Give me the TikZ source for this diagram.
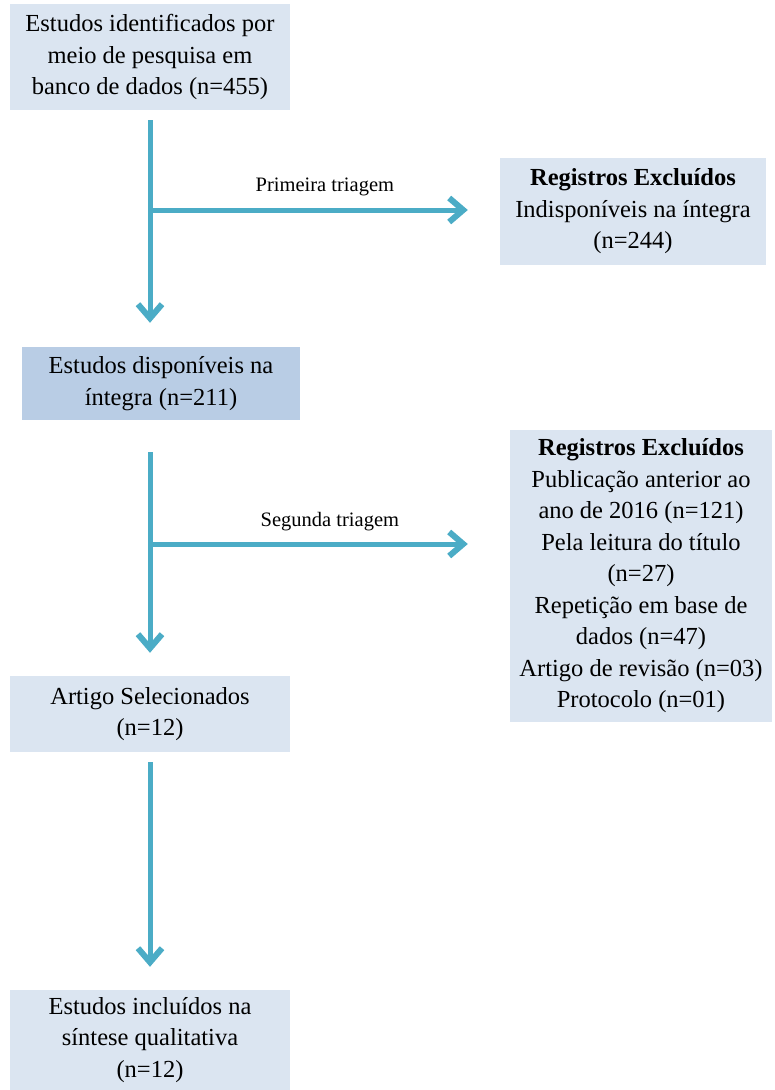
\documentclass[tikz,border=0pt]{standalone}
\usepackage{fontspec}
\setmainfont{Liberation Serif}
\usetikzlibrary{arrows.meta}
\definecolor{arrowc}{HTML}{4BACC6}
\definecolor{boxlight}{HTML}{DBE5F1}
\definecolor{boxmid}{HTML}{B9CDE5}
\tikzset{
  flowbox/.style={fill=boxlight, draw=none, inner sep=0pt, align=center,
    font=\fontsize{24.5}{31.5}\selectfont},
  flowarrow/.style={draw=arrowc, line width=5pt,
    -{Straight Barb[length=14pt,width=24pt,line width=6pt]}},
  steplabel/.style={font=\fontsize{20.5}{24}\selectfont, inner sep=0pt}
}
\begin{document}
\begin{tikzpicture}[x=1pt,y=-1pt]
\useasboundingbox (0,0) rectangle (775,1090);
\node[flowbox, minimum width=280pt, minimum height=106pt] (b1) at (150,57)
  {Estudos identificados por\\meio de pesquisa em\\banco de dados (n=455)};
\node[flowbox, minimum width=266pt, minimum height=107pt] (b2) at (633,211.5)
  {\textbf{Registros Excluídos}\\Indisponíveis na íntegra\\(n=244)};
\node[flowbox, fill=boxmid, minimum width=278pt, minimum height=73pt] (b3) at (161,383.5)
  {Estudos disponíveis na\\íntegra (n=211)};
\node[flowbox, minimum width=262pt, minimum height=292pt] (b5) at (641,576)
  {\textbf{Registros Excluídos}\\Publicação anterior ao\\ano de 2016 (n=121)\\Pela leitura do título\\(n=27)\\Repetição em base de\\dados (n=47)\\Artigo de revisão (n=03)\\Protocolo (n=01)};
\node[flowbox, minimum width=280pt, minimum height=76pt] (b4) at (150,714)
  {Artigo Selecionados\\(n=12)};
\node[flowbox, minimum width=280pt, minimum height=100pt] (b6) at (150,1040)
  {Estudos incluídos na\\síntese qualitativa\\(n=12)};
\coordinate (j1) at (150,210);
\coordinate (j2) at (150,544);
% arrows
\draw[flowarrow, shorten <=10pt, shorten >=24pt] (b1.south) -- (b1.south |- b3.north);
\draw[flowarrow, shorten >=32pt] (j1) -- (j1 -| b2.west)
  node[steplabel, midway, yshift=23pt] (l1) {Primeira triagem};
\draw[flowarrow, shorten <=32pt, shorten >=23pt] (b4.north |- b3.south) -- (b4.north);
\draw[flowarrow, shorten >=42pt] (j2) -- (j2 -| b5.west)
  node[steplabel, midway, yshift=22pt] (l2) {Segunda triagem};
\draw[flowarrow, shorten <=10pt, shorten >=23pt] (b4.south) -- (b6.north);
\end{tikzpicture}
\end{document}
